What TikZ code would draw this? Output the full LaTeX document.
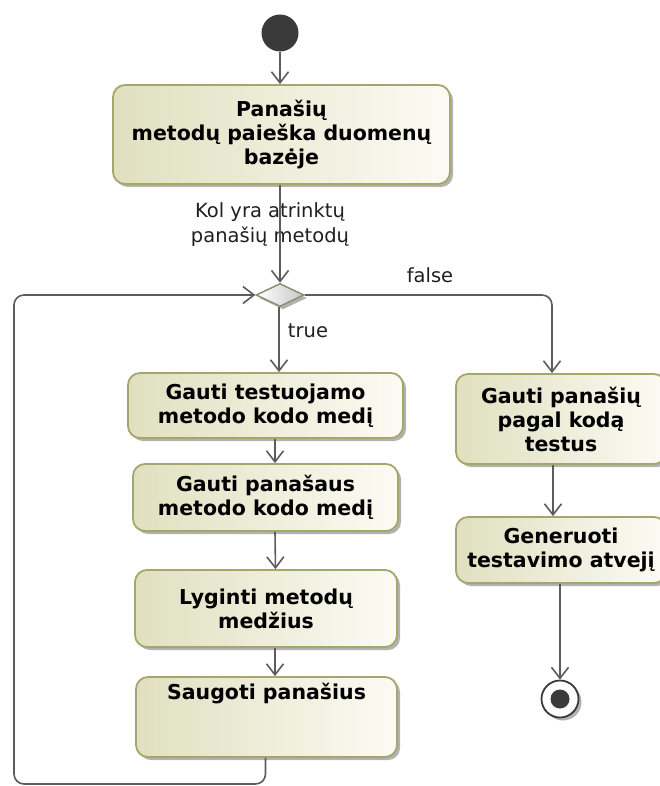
\documentclass[tikz,border=0pt]{standalone}
\usepackage{fontspec}
\setmainfont{DejaVu Sans}
\usetikzlibrary{shapes.geometric, arrows.meta, shadows}

\definecolor{actfillL}{HTML}{E0E0C0}
\definecolor{actfillR}{HTML}{FBFBF4}
\definecolor{actedge}{HTML}{A6A66A}
\definecolor{flow}{HTML}{5C5C5C}
\definecolor{dotcol}{HTML}{3A3A3A}
\definecolor{shadecol}{HTML}{B2B2B2}
\definecolor{decedge}{HTML}{8E8E72}

\tikzset{
  action/.style={rectangle, rounded corners=12pt, draw=actedge, line width=1.8pt,
    left color=actfillL, right color=actfillR, inner sep=0pt, align=center,
    font=\fontsize{20.5}{24}\selectfont\bfseries, text=black,
    drop shadow={shadow xshift=3pt, shadow yshift=-3pt, fill=shadecol, opacity=1}},
  decision/.style={diamond, draw=decedge, line width=1.5pt, inner sep=0pt,
    minimum width=48pt, minimum height=23pt,
    left color=white, right color=black!22,
    drop shadow={shadow xshift=3pt, shadow yshift=-3pt, fill=shadecol, opacity=1}},
  startnode/.style={circle, fill=dotcol, inner sep=0pt, minimum size=37pt},
  endnode/.style={circle, draw=dotcol, line width=1.8pt, fill=white, inner sep=0pt,
    minimum size=37pt,
    drop shadow={shadow xshift=3pt, shadow yshift=-3pt, fill=shadecol, opacity=1}},
  enddot/.style={circle, fill=dotcol, inner sep=0pt, minimum size=19pt},
  guard/.style={align=center, inner sep=0pt, text=black!88,
    font=\fontsize{19.5}{25}\selectfont},
  conn/.style={draw=flow, line width=1.6pt,
    -{Straight Barb[length=11pt, width=17pt, line width=1.6pt]}}
}

\begin{document}
\begin{tikzpicture}[x=1pt, y=-1pt]
  \useasboundingbox (0,0) rectangle (659,786);

  % initial node
  \node[startnode] (init) at (280,33) {};

  % main column of actions
  \node[action, minimum width=337pt, minimum height=99pt] (b1) at (281.5,134.5)
    {Panašių\\metodų paieška duomenų\\bazėje};
  \node[decision] (d) at (280,295) {};
  \node[action, minimum width=275pt, minimum height=65pt] (b2) at (265.5,405.5)
    {Gauti testuojamo\\metodo kodo medį};
  \node[action, minimum width=265pt, minimum height=67pt] (b3) at (265.5,497.5)
    {Gauti panašaus\\metodo kodo medį};
  \node[action, minimum width=262pt, minimum height=77pt] (b4) at (266,608.5)
    {Lyginti metodų\\medžius};
  \node[action, minimum width=261pt, minimum height=80pt] (b5) at (266.5,717) {};
  \node[anchor=north, inner sep=0pt, font=\fontsize{20.5}{24}\selectfont\bfseries]
    (b5text) at ([yshift=-7pt]b5.north) {Saugoti panašius};

  % right column of actions, running past the right edge
  \node[action, minimum width=210pt, minimum height=90pt] (r1) at (561,419)
    {Gauti panašių\\pagal kodą\\testus};
  \node[action, minimum width=210pt, minimum height=66pt] (r2) at (561,550)
    {Generuoti\\testavimo atvejį};

  % final node
  \node[endnode] (fin) at (560,699) {};
  \node[enddot] (findot) at (fin.center) {};

  % guard and branch labels
  \node[guard] (g) at (270,225) {Kol yra atrinktų\\panašių metodų};
  \node[guard] (lfalse) at (430,275) {false};
  \node[guard] (ltrue) at (308,331) {true};

  % control flows
  \draw[conn] (init.south) -- (init.south |- b1.north);
  \draw[conn] (b1.south -| d.north) -- (d.north);
  \draw[conn] ([xshift=-1pt]d.south) -- ([xshift=-1pt]d.south |- b2.north);
  \draw[conn] ([xshift=9.5pt]b2.south) -- ([xshift=9.5pt]b3.north);
  \draw[conn] ([xshift=9.5pt]b3.south) -- ([xshift=9.5pt]b4.north);
  \draw[conn] ([xshift=9pt]b4.south) -- ([xshift=8.5pt]b5.north);

  \coordinate (loopcorner) at (14,784);
  \draw[conn, rounded corners=10pt] ([xshift=-1pt]b5.south) |- (loopcorner) |- (d.west);

  \draw[conn, rounded corners=10pt] (d.east) -| ([xshift=-9pt]r1.north);
  \draw[conn] ([xshift=-8pt]r1.south) -- ([xshift=-8pt]r2.north);
  \draw[conn] (r2.south -| fin.north) -- (fin.north);
\end{tikzpicture}
\end{document}
